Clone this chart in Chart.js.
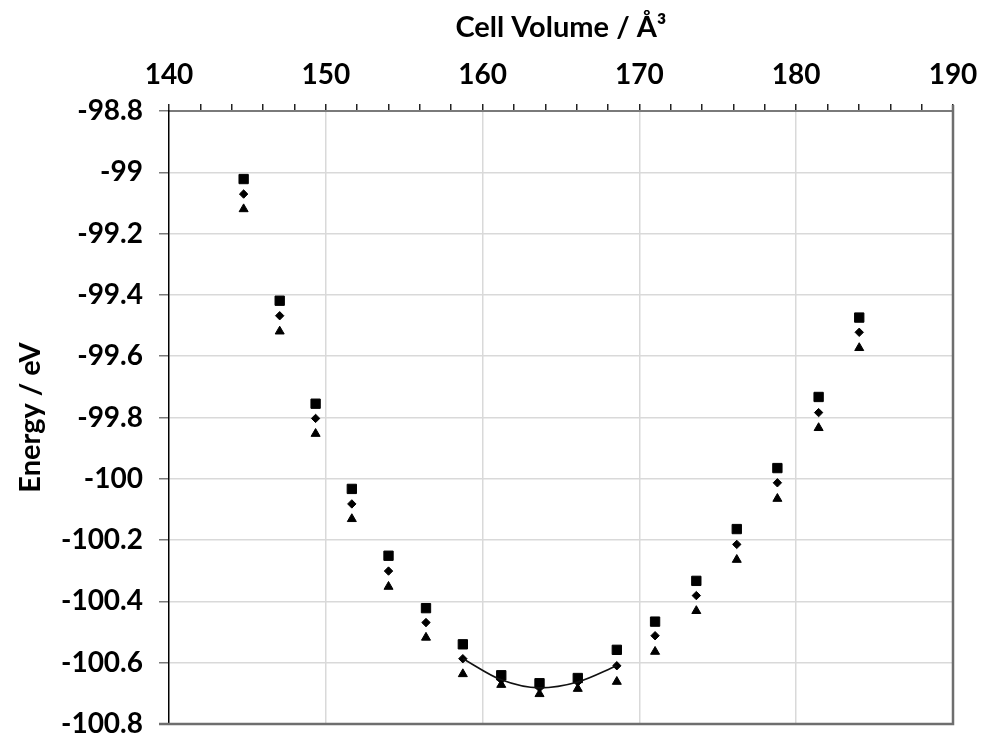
<!DOCTYPE html>
<html>
<head>
<meta charset="utf-8">
<script src="https://cdn.jsdelivr.net/npm/chart.js@4.4.1/dist/chart.umd.min.js"></script>
<style>
  html, body { margin: 0; padding: 0; background: #ffffff; }
  #wrap { width: 982px; height: 738px; position: relative; }
</style>
</head>
<body>
<div id="wrap"><canvas id="c" width="982" height="738"></canvas></div>
<script>
// ---- data ----
const volumes = [144.76, 147.06, 149.35, 151.66, 154.00, 156.39, 158.74, 161.19, 163.63, 166.07, 168.56, 171.00, 173.63, 176.21, 178.80, 181.43, 184.02];
const energySquare = [-99.022, -99.419, -99.755, -100.033, -100.251, -100.422, -100.540, -100.641, -100.667, -100.650, -100.558, -100.466, -100.333, -100.164, -99.965, -99.733, -99.474];
const energyDiamond = [-99.071, -99.468, -99.803, -100.082, -100.301, -100.469, -100.587, -100.656, -100.682, -100.663, -100.610, -100.512, -100.381, -100.214, -100.013, -99.784, -99.522];
const energyTriangle = [-99.120, -99.519, -99.853, -100.131, -100.352, -100.518, -100.637, -100.672, -100.702, -100.685, -100.662, -100.564, -100.431, -100.264, -100.065, -99.834, -99.573];
// fitted curve drawn through the diamond series near the minimum (indices 6..10)
const fitFirst = 6;
const fitLast = 10;

const xTitle = 'Cell Volume / Å³';
const yTitle = 'Energy / eV';

function pts(xs, ys) { return xs.map((x, i) => ({ x: x, y: ys[i] })); }

const FONT = 'Lato, "Open Sans", sans-serif';

const framePlugin = {
  id: 'frame',
  afterDatasetsDraw(chart) {
    const a = chart.chartArea, ctx = chart.ctx;
    ctx.save();
    ctx.strokeStyle = '#6e6e6e';
    ctx.lineWidth = 2.5;
    ctx.beginPath();
    ctx.moveTo(a.left - 10, a.bottom);
    ctx.lineTo(a.right, a.bottom);
    ctx.lineTo(a.right, a.top - 6);
    ctx.stroke();
    ctx.restore();
  }
};

new Chart(document.getElementById('c'), {
  type: 'scatter',
  data: {
    datasets: [
      {
        label: 'fit',
        data: pts(volumes.slice(fitFirst, fitLast + 1), energyDiamond.slice(fitFirst, fitLast + 1)),
        showLine: true,
        borderColor: '#111111',
        borderWidth: 1.6,
        pointRadius: 0,
        tension: 0.4,
        cubicInterpolationMode: 'monotone'
      },
      {
        label: 'square',
        data: pts(volumes, energySquare),
        pointStyle: 'rect',
        pointRadius: 6.6,
        backgroundColor: '#000000',
        borderColor: '#000000',
        borderWidth: 1
      },
      {
        label: 'diamond',
        data: pts(volumes, energyDiamond),
        pointStyle: 'rectRot',
        pointRadius: 4.2,
        backgroundColor: '#000000',
        borderColor: '#000000',
        borderWidth: 1
      },
      {
        label: 'triangle',
        data: pts(volumes, energyTriangle),
        pointStyle: 'triangle',
        pointRadius: 5.2,
        backgroundColor: '#000000',
        borderColor: '#000000',
        borderWidth: 1
      }
    ]
  },
  options: {
    responsive: false,
    animation: false,
    layout: { padding: { left: 0, right: 29, top: 0, bottom: 14 } },
    plugins: { legend: { display: false }, tooltip: { enabled: false } },
    scales: {
      x: {
        type: 'linear',
        position: 'top',
        min: 140,
        max: 190,
        afterFit(scale) { scale.height = 111; scale.paddingLeft = 0; scale.paddingRight = 0; },
        ticks: {
          stepSize: 2,
          autoSkip: false,
          maxRotation: 0,
          padding: 12,
          color: '#000000',
          font: { family: FONT, size: 28, weight: 'bold' },
          callback: (v) => (Math.round(v) % 10 === 0 ? String(Math.round(v)) : '')
        },
        grid: {
          color: (c) => {
            const v = Math.round(c.tick.value);
            return (v % 10 === 0 && v !== 140 && v !== 190) ? '#d9d9d9' : 'rgba(0,0,0,0)';
          },
          lineWidth: 1.5,
          tickColor: '#222222',
          tickLength: 7,
          tickWidth: 1.5
        },
        border: { display: true, color: '#7a7a7a', width: 2 },
        title: {
          display: true,
          text: xTitle,
          color: '#000000',
          font: { family: FONT, size: 29, weight: 'bold' },
          padding: { top: 10, bottom: 0 }
        }
      },
      y: {
        type: 'linear',
        position: 'left',
        min: -100.8,
        max: -98.8,
        afterFit(scale) { scale.width = 169; scale.paddingTop = 0; scale.paddingBottom = 0; },
        ticks: {
          stepSize: 0.2,
          padding: 16,
          color: '#000000',
          font: { family: FONT, size: 28, weight: 'bold' },
          callback: (v) => String(Math.round(v * 10) / 10)
        },
        grid: {
          color: (c) => (c.index === 0 || c.index === 10) ? 'rgba(0,0,0,0)' : '#d9d9d9',
          lineWidth: 1.5,
          tickColor: '#7a7a7a',
          tickLength: 10,
          tickWidth: 1.5
        },
        border: { display: true, color: '#000000', width: 1.5 },
        title: {
          display: true,
          text: yTitle,
          color: '#000000',
          font: { family: FONT, size: 29, weight: 'bold' },
          padding: { top: 13, bottom: 0 }
        }
      }
    }
  },
  plugins: [framePlugin]
});
</script>
</body>
</html>
